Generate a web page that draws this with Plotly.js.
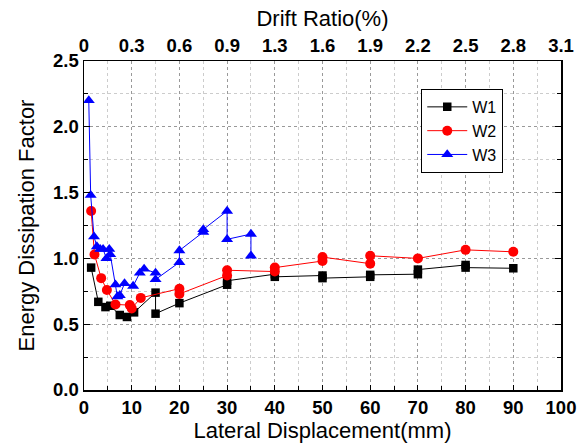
<!DOCTYPE html>
<html>
<head>
<meta charset="utf-8">
<script src="https://cdn.plot.ly/plotly-3.0.1.min.js"></script>
<style>html,body{margin:0;padding:0;background:#fff;}#chart{width:585px;height:447px;}</style>
</head>
<body>
<div id="chart"></div>
<script>
// W1
const w1X = [1.5, 3, 4.5, 5.5, 7.5, 9, 10.5, 15, 15, 20, 30, 30, 40, 40, 50, 50, 60, 60, 70, 70, 80, 80, 90];
const w1Y = [0.93, 0.67, 0.63, 0.64, 0.57, 0.555, 0.59, 0.74, 0.58, 0.66, 0.80, 0.83, 0.88, 0.86, 0.87, 0.85, 0.86, 0.875, 0.88, 0.915, 0.95, 0.93, 0.925];
// W2
const w2X = [1.5, 2.2, 3.6, 4.8, 6.6, 9.6, 10, 11.9, 20, 20, 30, 30, 40, 40, 50, 50, 60, 60, 70, 80, 90];
const w2Y = [1.36, 1.03, 0.85, 0.76, 0.65, 0.645, 0.62, 0.70, 0.77, 0.73, 0.87, 0.91, 0.90, 0.93, 0.98, 1.01, 0.96, 1.02, 1.00, 1.065, 1.05];
// W3
const w3X = [1, 1.4, 2.1, 2.7, 3.4, 4.0, 4.7, 5.3, 5.5, 6.6, 7.0, 7.5, 8.5, 10.3, 11.7, 12.6, 15, 15, 20, 20, 25, 25, 30, 30, 35, 35];
const w3Y = [2.2, 1.48, 1.165, 1.09, 1.07, 1.07, 1.0, 1.07, 1.03, 0.80, 0.71, 0.72, 0.81, 0.79, 0.89, 0.92, 0.89, 0.84, 0.97, 1.06, 1.20, 1.22, 1.36, 1.145, 1.185, 1.02];
// top axis
const topTickVals = [0, 10, 20, 30, 40, 50, 60, 70, 80, 90, 100];
const topTickText = ['0', '0.3', '0.6', '0.9', '1.3', '1.6', '1.9', '2.2', '2.5', '2.8', '3.1'];

const FONT = 'Liberation Sans, Arial, sans-serif';
const TICKFONT = {family: FONT, size: 18.5, weight: 'bold', color: '#000'};
const TITLEFONT = {family: FONT, size: 22, color: '#000'};

const traces = [
  {x: w1X, y: w1Y, name: 'W1', type: 'scatter', mode: 'lines+markers',
   line: {color: '#000000', width: 1}, marker: {symbol: 'square', size: 8.5, color: '#000000'}},
  {x: w2X, y: w2Y, name: 'W2', type: 'scatter', mode: 'lines+markers',
   line: {color: '#ff0000', width: 1}, marker: {symbol: 'circle', size: 10, color: '#ff0000'}},
  {x: w3X, y: w3Y, name: 'W3', type: 'scatter', mode: 'lines+markers',
   line: {color: '#0000ff', width: 1}, marker: {symbol: 'triangle-up', size: 10.5, color: '#0000ff'}},
  {x: [topTickVals[0], topTickVals[topTickVals.length - 1]], y: [null, null], xaxis: 'x2', yaxis: 'y',
   type: 'scatter', mode: 'markers', showlegend: false, hoverinfo: 'skip', marker: {opacity: 0}}
];

const layout = {
  width: 585, height: 447,
  margin: {l: 84, r: 24, t: 61, b: 57},
  paper_bgcolor: '#ffffff', plot_bgcolor: '#ffffff',
  font: {family: FONT, color: '#000'},
  showlegend: true,
  legend: {x: 0.707, y: 0.915, xanchor: 'left', yanchor: 'top',
           bordercolor: '#000', borderwidth: 1, bgcolor: '#fff',
           font: {family: FONT, size: 16, color: '#000'}, tracegroupgap: 0, itemwidth: 40},
  xaxis: {
    range: [0, 100], dtick: 10, tick0: 0, showline: true, linecolor: '#000', linewidth: 1.5,
    ticks: 'inside', ticklen: 5, tickcolor: '#000',
    showgrid: true, gridcolor: '#999', griddash: 'dot', gridwidth: 1, zeroline: false,
    minor: {dtick: 5, ticks: 'inside', ticklen: 4, tickcolor: '#000', showgrid: true, gridcolor: '#ccc', griddash: 'dot'},
    tickfont: TICKFONT,
    title: {text: 'Lateral Displacement(mm)', font: TITLEFONT, standoff: 2}
  },
  xaxis2: {
    overlaying: 'x', side: 'top', anchor: 'y', range: [0, 100],
    tickmode: 'array', tickvals: topTickVals, ticktext: topTickText,
    showline: true, linecolor: '#000', linewidth: 1.5, ticks: '', showgrid: false, zeroline: false,
    tickfont: TICKFONT,
    title: {text: 'Drift Ratio(%)', font: TITLEFONT, standoff: 2}
  },
  yaxis: {
    range: [0, 2.5], dtick: 0.5, tick0: 0, tickformat: '.1f',
    showline: true, linecolor: '#000', linewidth: 1.5, mirror: 'ticks',
    ticks: 'inside', ticklen: 6, tickcolor: '#000',
    showgrid: true, gridcolor: '#999', griddash: 'dot', gridwidth: 1, zeroline: false,
    minor: {dtick: 0.25, ticks: 'inside', ticklen: 4, tickcolor: '#000', showgrid: true, gridcolor: '#ccc', griddash: 'dot'},
    tickfont: TICKFONT,
    title: {text: 'Energy Dissipation Factor', font: TITLEFONT, standoff: 12}
  }
};

Plotly.newPlot('chart', traces, layout, {staticPlot: true, displayModeBar: false});
</script>
</body>
</html>
